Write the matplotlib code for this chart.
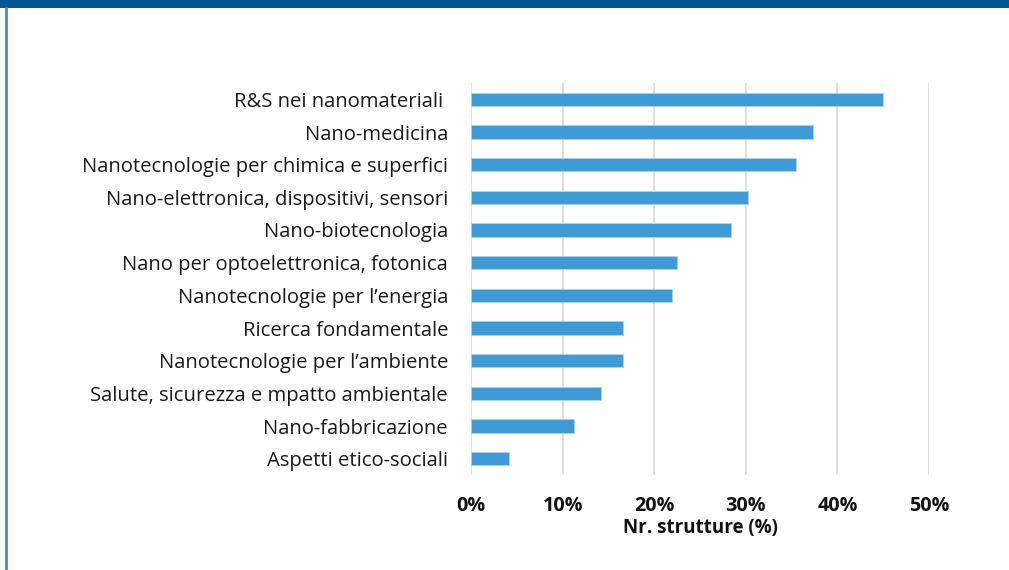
import matplotlib
matplotlib.use("Agg")
import matplotlib.pyplot as plt
from matplotlib.patches import Rectangle
from matplotlib.lines import Line2D
from matplotlib.ticker import FuncFormatter

categories = [
    "R&S nei nanomateriali ",
    "Nano-medicina",
    "Nanotecnologie per chimica e superfici",
    "Nano-elettronica, dispositivi, sensori",
    "Nano-biotecnologia",
    "Nano per optoelettronica, fotonica",
    "Nanotecnologie per l\u2019energia",
    "Ricerca fondamentale",
    "Nanotecnologie per l\u2019ambiente",
    "Salute, sicurezza e mpatto ambientale",
    "Nano-fabbricazione",
    "Aspetti etico-sociali",
]
values = [0.450, 0.373, 0.355, 0.302, 0.284, 0.225, 0.219, 0.166, 0.166, 0.142, 0.112, 0.041]
xticks = [0, 0.1, 0.2, 0.3, 0.4, 0.5]

plt.rcParams['font.family'] = ['Open Sans', 'DejaVu Sans']

fig = plt.figure(figsize=(10.09, 5.70), dpi=100)
fig.patch.set_facecolor('white')

# decorative frame: top band and left border
fig.add_artist(Rectangle((0, 1 - 8/570), 1, 8/570, transform=fig.transFigure,
                         facecolor='#01578F', edgecolor='none'))
fig.add_artist(Line2D([6/1009, 6/1009], [0, 1 - 8/570], transform=fig.transFigure,
                      color='#4F86B8', linewidth=2))

ax = fig.add_axes([471/1009, 1 - 475/570, 458/1009, 392/570])
ypos = list(range(len(categories)))
ax.barh(ypos, values, height=0.4, color='#3E9BD5', edgecolor='#A9D3EE', linewidth=0.6, zorder=3)
ax.set_ylim(len(categories) - 0.5, -0.5)
ax.set_xlim(0, 0.5)
ax.set_yticks(ypos)
ax.set_yticklabels(categories, fontsize=14.6, color='#1a1a1a')
ax.set_xticks(xticks)
ax.xaxis.set_major_formatter(FuncFormatter(lambda v, p: f"{v*100:.0f}%"))
for lab in ax.get_xticklabels():
    lab.set_fontweight('bold')
    lab.set_fontsize(14.2)
    lab.set_color('#111111')
ax.tick_params(axis='y', length=0, pad=16.5)
ax.tick_params(axis='x', length=0, pad=15)
ax.grid(axis='x', color='#D9D9D9', linewidth=1.2, zorder=0)
for s in ax.spines.values():
    s.set_visible(False)
ax.set_xlabel("Nr. strutture (%)", fontsize=13.5, fontweight='bold', color='#111111')
ax.xaxis.label.set_va('center')
ax.xaxis.set_label_coords(0.5, (475 - 528) / 392)

fig.savefig("out.png", dpi=100, facecolor='white')
